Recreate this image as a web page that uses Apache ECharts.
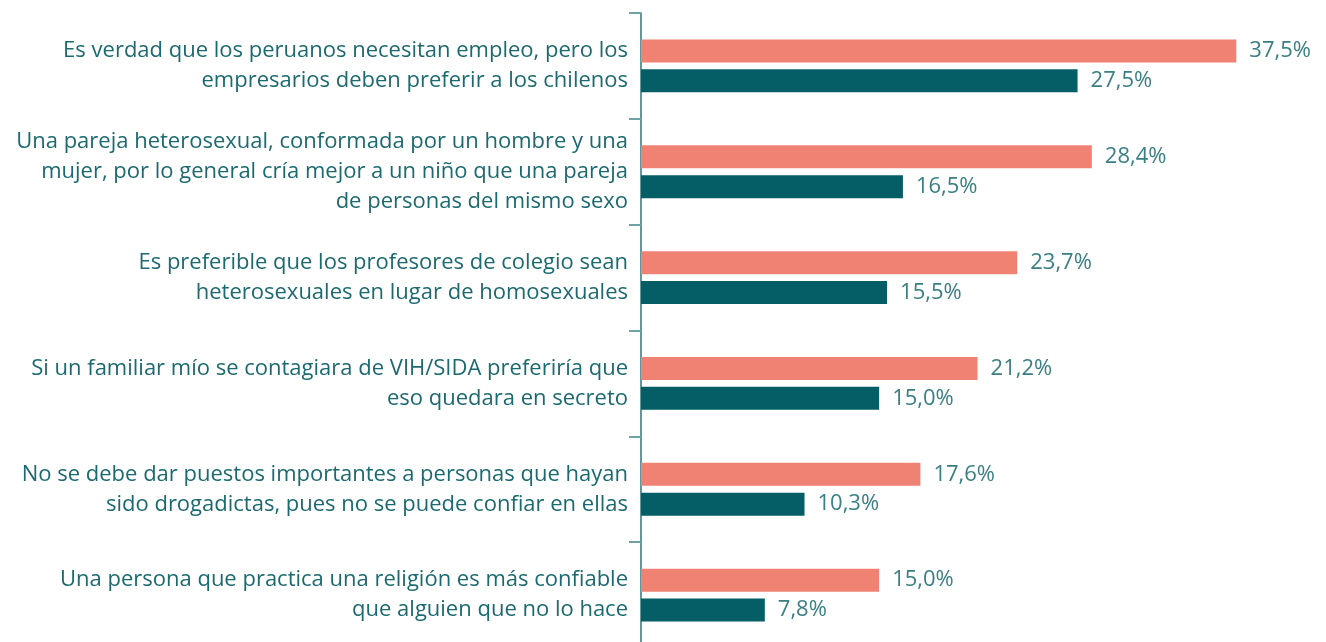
<!DOCTYPE html>
<html lang="es">
<head>
<meta charset="utf-8">
<title>Percepciones</title>
<script src="https://cdn.jsdelivr.net/npm/echarts@6/dist/echarts.min.js"></script>
<style>
  html, body { margin: 0; padding: 0; background: #ffffff; }
  #chart { width: 1326px; height: 642px; }
</style>
</head>
<body>
<div id="chart"></div>
<script>
// Afirmaciones (con saltos de línea tal como se muestran)
const categories = [
  'Es verdad que los peruanos necesitan empleo, pero los\nempresarios deben preferir a los chilenos',
  'Una pareja heterosexual, conformada por un hombre y una\nmujer, por lo general cría mejor a un niño que una pareja\nde personas del mismo sexo',
  'Es preferible que los profesores de colegio sean\nheterosexuales en lugar de homosexuales',
  'Si un familiar mío se contagiara de VIH/SIDA preferiría que\neso quedara en secreto',
  'No se debe dar puestos importantes a personas que hayan\nsido drogadictas, pues no se puede confiar en ellas',
  'Una persona que practica una religión es más confiable\nque alguien que no lo hace'
];

// Porcentaje de acuerdo por grupo
const grupoA = [37.5, 28.4, 23.7, 21.2, 17.6, 15.0];
const grupoB = [27.5, 16.5, 15.5, 15.0, 10.3, 7.8];

const FONT = '"Open Sans", "Noto Sans", sans-serif';
const pct = v => v.toFixed(1).replace('.', ',') + '%';

const chart = echarts.init(document.getElementById('chart'), null, { renderer: 'canvas' });

const labelStyle = {
  show: true,
  position: 'right',
  distance: 13,
  color: '#3a7f83',
  fontFamily: FONT,
  fontSize: 22,
  formatter: p => pct(p.value)
};

chart.setOption({
  animation: false,
  backgroundColor: '#ffffff',
  grid: {
    left: 641, top: 13, width: 635, height: 635,
    containLabel: false,
    outerBoundsMode: 'none'
  },
  xAxis: {
    type: 'value',
    min: 0,
    max: 40,
    show: false
  },
  yAxis: {
    type: 'category',
    inverse: true,
    data: categories,
    axisLine: { show: true, lineStyle: { color: '#2f7478', width: 1.5 } },
    axisTick: { show: true, length: 12, alignWithLabel: false, lineStyle: { color: '#6ea3a6', width: 2 } },
    axisLabel: {
      margin: 13,
      color: '#1c6a70',
      fontFamily: FONT,
      fontSize: 22,
      lineHeight: 30,
      align: 'right'
    },
    splitLine: { show: false }
  },
  series: [
    {
      name: 'Grupo A',
      type: 'bar',
      data: grupoA,
      barWidth: 23,
      barGap: '30%',
      itemStyle: { color: '#f08274' },
      label: labelStyle
    },
    {
      name: 'Grupo B',
      type: 'bar',
      data: grupoB,
      barWidth: 23,
      barGap: '30%',
      itemStyle: { color: '#055e65' },
      label: labelStyle
    }
  ]
});
</script>
</body>
</html>
